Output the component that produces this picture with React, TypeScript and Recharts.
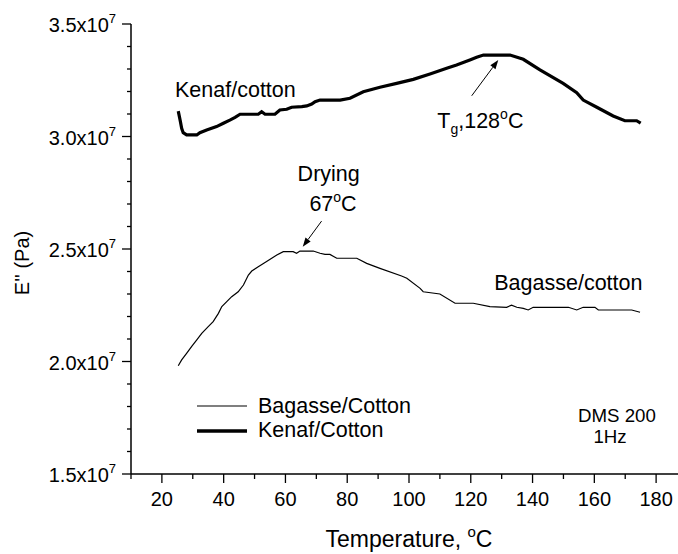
import { LineChart, Line, XAxis, YAxis, ReferenceLine, ReferenceDot, Legend } from 'recharts'

const FONT = '"Liberation Sans", Arial, sans-serif'

// Bagasse/cotton, thin curve
const bagasseTemp = [
  25.3, 26.4, 28.0, 29.6, 31.3, 32.9, 35.0, 36.6, 38.3, 39.4, 41.0, 42.6, 44.7, 46.4, 48.0, 49.1,
  51.2, 53.9, 57.2, 59.3, 62.5, 63.6, 64.7, 69.0, 71.2, 72.8, 74.4, 76.6, 83.1, 86.3, 90.6, 97.6,
  99.3, 103.6, 104.6, 110.0, 114.9, 120.8, 126.2, 131.6, 133.2, 134.9, 137.0, 138.6, 140.2, 151.6,
  154.3, 156.4, 160.2, 161.3, 172.1, 174.8,
]
const bagasseE = [
  1.981e7, 2.007e7, 2.036e7, 2.066e7, 2.096e7, 2.125e7, 2.155e7, 2.177e7, 2.214e7, 2.244e7, 2.266e7,
  2.288e7, 2.31e7, 2.34e7, 2.384e7, 2.402e7, 2.421e7, 2.444e7, 2.473e7, 2.488e7, 2.488e7, 2.481e7,
  2.491e7, 2.491e7, 2.481e7, 2.476e7, 2.476e7, 2.459e7, 2.459e7, 2.436e7, 2.414e7, 2.38e7, 2.37e7,
  2.325e7, 2.31e7, 2.3e7, 2.259e7, 2.259e7, 2.244e7, 2.241e7, 2.25e7, 2.241e7, 2.236e7, 2.229e7,
  2.241e7, 2.241e7, 2.229e7, 2.241e7, 2.241e7, 2.229e7, 2.229e7, 2.219e7,
]

// Kenaf/cotton, thick curve
const kenafTemp = [
  25.3, 25.9, 26.4, 26.9, 28.0, 31.3, 32.3, 34.5, 37.7, 39.9, 42.0, 43.7, 45.3, 51.2, 52.3, 53.4,
  56.6, 58.2, 60.4, 62.0, 65.3, 66.9, 68.5, 69.6, 71.2, 77.7, 80.9, 85.2, 90.6, 96.0, 101.4, 106.8,
  112.2, 115.4, 119.7, 121.9, 124.1, 132.7, 137.0, 142.4, 149.9, 154.3, 156.4, 160.8, 166.1, 169.9,
  173.7, 175.0,
]
const kenafE = [
  3.113e7, 3.073e7, 3.036e7, 3.017e7, 3.007e7, 3.007e7, 3.017e7, 3.029e7, 3.044e7, 3.059e7, 3.073e7,
  3.085e7, 3.099e7, 3.099e7, 3.11e7, 3.099e7, 3.099e7, 3.118e7, 3.121e7, 3.13e7, 3.133e7, 3.136e7,
  3.144e7, 3.155e7, 3.162e7, 3.162e7, 3.17e7, 3.199e7, 3.219e7, 3.236e7, 3.254e7, 3.278e7, 3.303e7,
  3.318e7, 3.34e7, 3.352e7, 3.362e7, 3.362e7, 3.343e7, 3.296e7, 3.236e7, 3.195e7, 3.162e7, 3.13e7,
  3.091e7, 3.07e7, 3.07e7, 3.059e7,
]

const tempTicks = [10, 20, 30, 40, 50, 60, 70, 80, 90, 100, 110, 120, 130, 140, 150, 160, 170, 180, 190]
const tempLabels = [20, 40, 60, 80, 100, 120, 140, 160, 180]
const eTicks = [
  1.5e7, 1.6e7, 1.7e7, 1.8e7, 1.9e7, 2.0e7, 2.1e7, 2.2e7, 2.3e7, 2.4e7, 2.5e7,
  2.6e7, 2.7e7, 2.8e7, 2.9e7, 3.0e7, 3.1e7, 3.2e7, 3.3e7, 3.4e7, 3.5e7,
]
const eLabels = [1.5e7, 2.0e7, 2.5e7, 3.0e7, 3.5e7]

const legendItems = [
  { name: 'Bagasse/Cotton', width: 1.2 },
  { name: 'Kenaf/Cotton', width: 3.5 },
]

const bagasseData = bagasseTemp.map((t, i) => ({ t, e: bagasseE[i] }))
const kenafData = kenafTemp.map((t, i) => ({ t, e: kenafE[i] }))

const txt = { fontSize: 20, fontFamily: FONT, fill: '#000' }
const big = { ...txt, fontSize: 21.5 }

function BottomTick({ x, y, payload }: any) {
  const major = tempLabels.includes(payload.value)
  return (
    <g>
      <line x1={x} x2={x} y1={y} y2={y + (major ? 9 : 5)} stroke="#000" strokeWidth={1.3} />
      {major && <text x={x} y={y + 32} textAnchor="middle" {...txt}>{payload.value}</text>}
    </g>
  )
}

function TopTick({ x, y, payload }: any) {
  const major = tempLabels.includes(payload.value)
  return <line x1={x} x2={x} y1={y} y2={y + (major ? 9 : 5)} stroke="#000" strokeWidth={1.3} />
}

function LeftTick({ x, y, payload }: any) {
  const major = eLabels.includes(payload.value)
  return (
    <g>
      <line x1={x - (major ? 9 : 4)} x2={x} y1={y} y2={y} stroke="#000" strokeWidth={1.3} />
      {major && (
        <text x={x - 15} y={y + 8} textAnchor="end" {...txt}>
          {(payload.value / 1e7).toFixed(1)}x10
          <tspan fontSize={13} dy={-9}>7</tspan>
        </text>
      )}
    </g>
  )
}

function YTitle({ viewBox }: any) {
  const cx = viewBox.x + 29
  const cy = viewBox.y + viewBox.height / 2 + 14
  return (
    <text x={cx} y={cy} transform={`rotate(-90 ${cx} ${cy})`} textAnchor="middle" {...txt}>
      E'' (Pa)
    </text>
  )
}

function XTitle({ viewBox }: any) {
  return (
    <text x={viewBox.x + viewBox.width / 2} y={viewBox.y + 73} textAnchor="middle" {...txt} fontSize={23}>
      Temperature, <tspan fontSize={15} dy={-10}>o</tspan>
      <tspan dy={10}>C</tspan>
    </text>
  )
}

function Arrow({ x1, y1, x2, y2 }: any) {
  const a = Math.atan2(y2 - y1, x2 - x1)
  const bx = x2 - 9 * Math.cos(a)
  const by = y2 - 9 * Math.sin(a)
  const px = -Math.sin(a) * 3.2
  const py = Math.cos(a) * 3.2
  return (
    <g>
      <line x1={x1} y1={y1} x2={bx} y2={by} stroke="#000" strokeWidth={1} />
      <polygon points={`${x2},${y2} ${bx + px},${by + py} ${bx - px},${by - py}`} fill="#000" />
    </g>
  )
}

const note = (content: (cx: number, cy: number) => any) => (p: any) => content(p.cx, p.cy)

function renderLegend() {
  return (
    <svg width={230} height={52}>
      {legendItems.map((s, i) => (
        <g key={s.name}>
          <line x1={7} x2={57} y1={12 + i * 25} y2={12 + i * 25} stroke="#000" strokeWidth={s.width} />
          <text x={68} y={19 + i * 24} {...big}>{s.name}</text>
        </g>
      ))}
    </svg>
  )
}

export default function App() {
  return (
    <div style={{ position: 'absolute', left: 0, top: 0, width: 678, height: 554, overflow: 'hidden', background: '#fff' }}>
      <LineChart width={690} height={554} margin={{ top: 24, right: 3, bottom: 0, left: 0 }} style={{ fontFamily: FONT }}>
        <XAxis
          dataKey="t"
          type="number"
          domain={[10, 190]}
          ticks={tempTicks}
          interval={0}
          height={80}
          tickSize={0}
          tickMargin={0}
          tick={<BottomTick />}
          axisLine={{ stroke: '#000', strokeWidth: 1.5 }}
          allowDataOverflow
          label={<XTitle />}
        />
        <XAxis
          xAxisId="top"
          orientation="top"
          dataKey="t"
          type="number"
          domain={[10, 190]}
          ticks={tempTicks}
          interval={0}
          height={0}
          tickSize={0}
          tickMargin={0}
          tick={<TopTick />}
          axisLine={{ stroke: '#000', strokeWidth: 1.5 }}
          allowDataOverflow
        />
        <YAxis
          type="number"
          domain={[1.5e7, 3.5e7]}
          ticks={eTicks}
          interval={0}
          width={131}
          tickSize={0}
          tickMargin={0}
          tick={<LeftTick />}
          axisLine={{ stroke: '#000', strokeWidth: 1.5 }}
          allowDataOverflow
          label={<YTitle />}
        />
        <YAxis
          yAxisId="right"
          orientation="right"
          type="number"
          domain={[1.5e7, 3.5e7]}
          width={0}
          tick={false}
          tickLine={false}
          axisLine={{ stroke: '#000', strokeWidth: 1.5 }}
        />
        <Line data={bagasseData} dataKey="e" name="Bagasse/Cotton" type="linear" stroke="#000" strokeWidth={1.2} dot={false} isAnimationActive={false} />
        <Line data={kenafData} dataKey="e" name="Kenaf/Cotton" type="linear" stroke="#000" strokeWidth={3.2} dot={false} isAnimationActive={false} />

        <ReferenceLine segment={[{ x: 120.3, y: 3.181e7 }, { x: 128.9, y: 3.34e7 }]} shape={Arrow} />
        <ReferenceLine segment={[{ x: 71.7, y: 2.624e7 }, { x: 65.6, y: 2.51e7 }]} shape={Arrow} />

        <ReferenceDot x={43.8} y={3.177e7} shape={note((cx, cy) => (
          <text x={cx} y={cy} textAnchor="middle" {...big}>Kenaf/cotton</text>
        ))} />
        <ReferenceDot x={123.1} y={3.036e7} shape={note((cx, cy) => (
          <text x={cx} y={cy} textAnchor="middle" {...big}>
            T<tspan fontSize={14} dy={6}>g</tspan>
            <tspan dy={-6}>,128</tspan>
            <tspan fontSize={14} dy={-9}>o</tspan>
            <tspan dy={9}>C</tspan>
          </text>
        ))} />
        <ReferenceDot x={74.0} y={2.804e7} shape={note((cx, cy) => (
          <text x={cx} y={cy} textAnchor="middle" {...big}>Drying</text>
        ))} />
        <ReferenceDot x={75.4} y={2.669e7} shape={note((cx, cy) => (
          <text x={cx} y={cy} textAnchor="middle" {...big}>
            67<tspan fontSize={14} dy={-9}>o</tspan>
            <tspan dy={9}>C</tspan>
          </text>
        ))} />
        <ReferenceDot x={151.6} y={2.318e7} shape={note((cx, cy) => (
          <text x={cx} y={cy} textAnchor="middle" {...big}>Bagasse/cotton</text>
        ))} />
        <ReferenceDot x={167.3} y={1.732e7} shape={note((cx, cy) => (
          <text x={cx} y={cy} textAnchor="middle" {...txt} fontSize={18.7}>DMS 200</text>
        ))} />
        <ReferenceDot x={165.1} y={1.636e7} shape={note((cx, cy) => (
          <text x={cx} y={cy} textAnchor="middle" {...txt} fontSize={18.7}>1Hz</text>
        ))} />

        <Legend
          layout="vertical"
          align="center"
          verticalAlign="middle"
          content={renderLegend}
          wrapperStyle={{ left: 190, top: 394, width: 230, height: 52 }}
        />
      </LineChart>
    </div>
  )
}
